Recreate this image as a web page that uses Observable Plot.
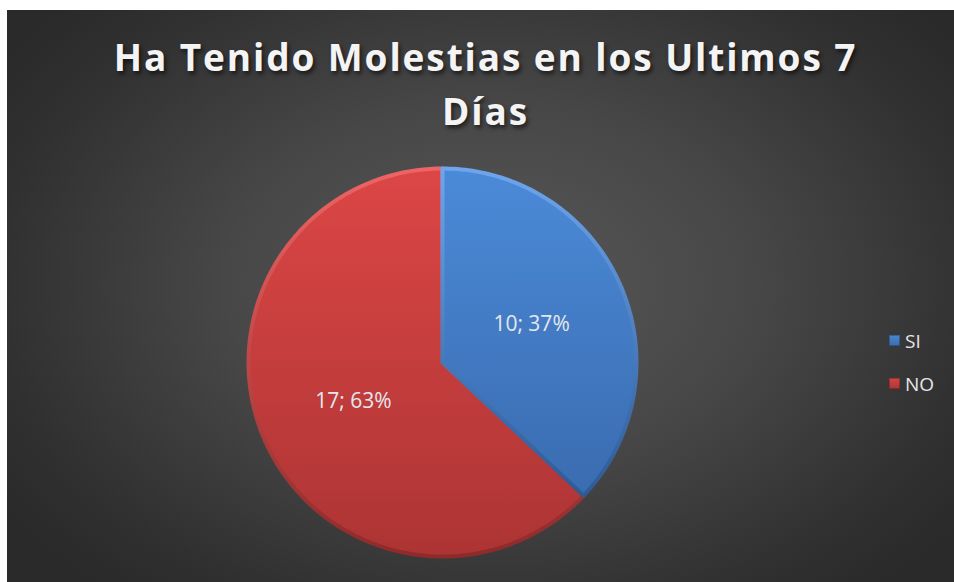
<!DOCTYPE html>
<html>
<head>
<meta charset="utf-8">
<script src="https://cdn.jsdelivr.net/npm/d3@7"></script>
<script src="https://cdn.jsdelivr.net/npm/@observablehq/plot@0.6"></script>
<style>
  html, body { margin: 0; padding: 0; background: #fff; }
  #frame {
    position: absolute; left: 7px; top: 10px; width: 947px; height: 572px;
    background: radial-gradient(ellipse 62% 70% at 51% 48%, #585858 0%, #474747 45%, #303030 85%, #2a2a2a 100%);
    overflow: hidden;
    font-family: "Open Sans", "Noto Sans", sans-serif;
  }
  #title {
    position: absolute; left: 5px; width: 947px; top: 20px; text-align: center;
    color: #f4f4f4; font-weight: 700; font-size: 37px; line-height: 54px; letter-spacing: 1.9px;
    text-shadow: 2px 3px 4px rgba(0,0,0,0.6);
  }
  #chart { position: absolute; left: 0; top: 0; }
  #legend { position: absolute; left: 882px; top: 309px; color: #e6e6e6; font-size: 19px; }
  .item { display: flex; align-items: center; height: 43px; }
  .sw { width: 11px; height: 11px; margin-right: 5px; box-shadow: inset 0 0 0 1px rgba(0,0,0,0.25); }
</style>
</head>
<body>
<div id="frame">
  <div id="chart"></div>
  <div id="title">Ha Tenido Molestias en los Ultimos 7<br>Días</div>
  <div id="legend"></div>
</div>
<script>
const categories = ["SI", "NO"];
const values = [10, 17];
const percents = ["37%", "63%"];
const colors = ["#4a86d2", "#d44444"];

const pie = d3.pie().sort(null).value(d => d.value)(categories.map((c, i) => ({cat: c, value: values[i], i})));

// wedge outlines (unit circle, angle clockwise from top), derived from data
const wedgePts = [];
pie.forEach(p => {
  const n = 120;
  wedgePts.push({cat: p.data.cat, x: 0, y: 0});
  for (let k = 0; k <= n; k++) {
    const a = p.startAngle + (p.endAngle - p.startAngle) * k / n;
    wedgePts.push({cat: p.data.cat, x: Math.sin(a), y: Math.cos(a)});
  }
  wedgePts.push({cat: p.data.cat, x: 0, y: 0});
});
const labelR = 0.5;
const labels = pie.map(p => {
  const a = (p.startAngle + p.endAngle) / 2;
  return {x: labelR * Math.sin(a), y: labelR * Math.cos(a), text: `${p.data.value}; ${percents[p.data.i]}`};
});

const cx = 435, cy = 352, R = 194;
const plot = Plot.plot({
  width: 947, height: 572,
  style: {background: "transparent", overflow: "visible"},
  x: {domain: [-1, 1], range: [cx - R, cx + R], axis: null},
  y: {domain: [-1, 1], range: [cy + R, cy - R], axis: null},
  marks: [
    Plot.line(wedgePts.filter(d => d.cat === "NO"), {x: "x", y: "y", fill: "url(#gNO)", stroke: "#6e2020", strokeWidth: 1, curve: "linear"}),
    Plot.line(wedgePts.filter(d => d.cat === "NO"), {x: "x", y: "y", fill: "none", stroke: "url(#rimNO)", strokeWidth: 4, curve: "linear"}),
    Plot.line(wedgePts.filter(d => d.cat === "SI"), {x: "x", y: "y", fill: "url(#gSI)", stroke: "#22466f", strokeWidth: 1, curve: "linear"}),
    Plot.line(wedgePts.filter(d => d.cat === "SI"), {x: "x", y: "y", fill: "none", stroke: "url(#rimSI)", strokeWidth: 4, curve: "linear"}),
    Plot.text(labels, {x: "x", y: "y", text: "text", fill: "#e4e8ee", fontSize: 21, fontFamily: "Open Sans"})
  ]
});

const svg = d3.select(plot);
const defs = svg.insert("defs", ":first-child");
function lin(id, c1, c2) {
  const g = defs.append("linearGradient").attr("id", id).attr("x1", 0).attr("y1", 0).attr("x2", 0).attr("y2", 1);
  g.append("stop").attr("offset", "0%").attr("stop-color", c1);
  g.append("stop").attr("offset", "100%").attr("stop-color", c2);
}
lin("gSI", "#4b8ad8", "#3a6cb0");
lin("gNO", "#dc4646", "#ad3434");
lin("rimSI", "#6ea5ec", "#2f5a96");
lin("rimNO", "#ee6464", "#8f2a2a");

document.getElementById("chart").appendChild(plot);

const legend = document.getElementById("legend");
categories.forEach((c, i) => {
  const it = document.createElement("div");
  it.className = "item";
  it.innerHTML = `<span class="sw" style="background:linear-gradient(${colors[i]}, ${d3.color(colors[i]).darker(0.6)})"></span><span>${c}</span>`;
  legend.appendChild(it);
});
</script>
</body>
</html>
